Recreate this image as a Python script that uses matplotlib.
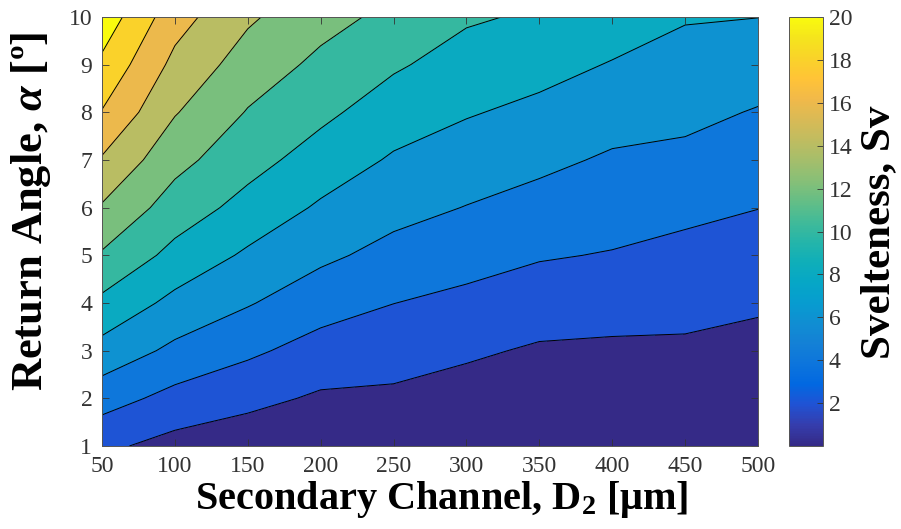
import numpy as np
import matplotlib
matplotlib.use('Agg')
import matplotlib.pyplot as plt
from matplotlib.colors import LinearSegmentedColormap, Normalize
from matplotlib.cm import ScalarMappable

# datos
D2 = [50, 100, 150, 200, 250, 300, 350, 400, 450, 500]   # um
alpha = [1, 2, 3, 4, 5, 6, 7, 8, 9, 10]                    # grados
# Sv por fila de alpha (1 -> 10), columnas segun D2
Sv = [
    [2.41, 1.32, 0.76, 0.47, 0.40, 0.30, 0.25, 0.20, 0.20, 0.15],
    [4.85, 3.38, 2.56, 1.73, 1.64, 1.18, 0.81, 0.70, 0.70, 0.60],
    [7.29, 5.56, 4.36, 3.24, 2.82, 2.30, 1.77, 1.67, 1.67, 1.33],
    [9.54, 7.45, 6.15, 4.83, 4.02, 3.52, 2.97, 2.78, 2.61, 2.29],
    [11.78, 9.40, 7.69, 6.40, 5.38, 4.73, 4.16, 3.89, 3.48, 3.16],
    [13.80, 11.08, 9.33, 7.73, 6.63, 5.94, 5.31, 4.83, 4.44, 4.03],
    [15.80, 12.62, 10.71, 9.14, 7.77, 7.05, 6.44, 5.75, 5.54, 4.95],
    [17.90, 14.13, 11.88, 10.44, 9.00, 8.15, 7.54, 6.80, 6.48, 5.87],
    [19.58, 15.47, 13.09, 11.56, 10.25, 9.19, 8.64, 7.89, 7.31, 6.93],
    [21.25, 16.80, 14.30, 12.67, 11.50, 10.24, 9.74, 8.98, 8.14, 8.02],
]
niveles = [0, 2, 4, 6, 8, 10, 12, 14, 16, 18, 20, 22]
ticks_cb = [2, 4, 6, 8, 10, 12, 14, 16, 18, 20]

# parula (MATLAB)
parula_pts = [
    [0.2081, 0.1663, 0.5292], [0.2081, 0.2386, 0.6771], [0.1253, 0.3242, 0.8303],
    [0.0060, 0.4086, 0.8828], [0.0498, 0.4586, 0.8641], [0.0779, 0.5040, 0.8384],
    [0.0641, 0.5570, 0.8240], [0.0265, 0.6137, 0.8135], [0.0228, 0.6535, 0.7768],
    [0.0590, 0.6838, 0.7254], [0.1453, 0.7098, 0.6646], [0.2586, 0.7317, 0.5954],
    [0.3953, 0.7459, 0.5244], [0.5300, 0.7491, 0.4661], [0.6473, 0.7456, 0.4188],
    [0.7525, 0.7384, 0.3768], [0.8507, 0.7299, 0.3360], [0.9450, 0.7261, 0.2886],
    [0.9990, 0.7653, 0.2164], [0.9789, 0.8271, 0.1633], [0.9589, 0.8949, 0.1132],
    [0.9763, 0.9831, 0.0538],
]
parula = LinearSegmentedColormap.from_list('parula', parula_pts, N=256)

plt.rcParams['font.family'] = 'Liberation Serif'
plt.rcParams['mathtext.fontset'] = 'custom'
plt.rcParams['mathtext.rm'] = 'Liberation Serif:bold'
plt.rcParams['mathtext.it'] = 'Liberation Serif:italic:bold'
plt.rcParams['mathtext.bf'] = 'Liberation Serif:bold'

gris = '#333333'

fig = plt.figure(figsize=(9.01, 5.29), dpi=100)
ax = fig.add_axes([102/901, 83/529, 656/901, 429/529])
cax = fig.add_axes([789/901, 83/529, 34/901, 429/529])

X, Y = np.meshgrid(D2, alpha)
Z = np.array(Sv)

# color de cada banda = nivel inferior (como MATLAB, clim 0-20)
colores = [parula(min(n / 20, 1.0)) for n in niveles[:-1]]
ax.contourf(X, Y, Z, levels=niveles, colors=colores)
ax.contour(X, Y, Z, levels=niveles[1:-1], colors='k', linewidths=0.7)

ax.set_xlim(50, 500)
ax.set_ylim(1, 10)
ax.set_xticks(D2)
ax.set_yticks(alpha)
ax.tick_params(direction='in', top=True, right=True, length=5, width=0.6,
               labelsize=17, colors=gris)
ax.tick_params(axis='x', pad=7.5)
ax.tick_params(axis='y', pad=7)
for s in ax.spines.values():
    s.set_color('#555555')
    s.set_linewidth(0.7)

sm = ScalarMappable(norm=Normalize(0, 20), cmap=parula)
cb = fig.colorbar(sm, cax=cax)
cb.set_ticks(ticks_cb)
cb.ax.tick_params(direction='in', length=4, width=0.6, labelsize=17, colors=gris, pad=4)
cb.outline.set_edgecolor('#555555')
cb.outline.set_linewidth(0.7)

fig.text(442/901, 1 - 500/529, 'Secondary Channel, D$_2$ [μm]', ha='center', va='center',
         fontsize=29, fontweight='bold', color='black')
fig.text(31/901, 1 - 211/529, 'Return Angle, $\\alpha$ [º]', ha='center', va='center',
         rotation=90, fontsize=32, fontweight='bold', color='black')
fig.text(879/901, 1 - 232/529, 'Svelteness, Sv', ha='center', va='center',
         rotation=90, fontsize=31, fontweight='bold', color='black')

fig.savefig('out.png', dpi=100)
